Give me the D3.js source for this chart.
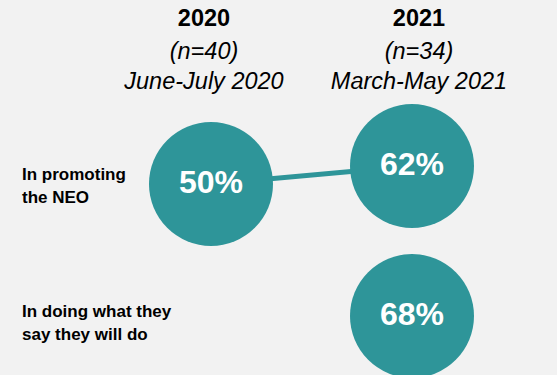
<!DOCTYPE html>
<html>
<head>
<meta charset="utf-8">
<script src="https://cdn.jsdelivr.net/npm/d3@7"></script>
<style>
  html, body { margin: 0; padding: 0; background: #f2f2f2; }
  svg { display: block; font-family: "Liberation Sans", Arial, sans-serif; }
</style>
</head>
<body>
<svg width="557" height="375"></svg>
<script>
// data
const years = ["2020", "2021"];
const sampleSizes = ["(n=40)", "(n=34)"];
const periods = ["June-July 2020", "March-May 2021"];
const categories = ["In promoting the NEO", "In doing what they say they will do"];
const labelLines = [["In promoting", "the NEO"], ["In doing what they", "say they will do"]];
const values2020 = [50, null];
const values2021 = [62, 68];

const svg = d3.select("svg");
const teal = "#2e9599";
const radius = 62;

// column / row scales
const x = d3.scalePoint().domain(years).range([211, 412]);
const row = d3.scalePoint().domain(categories).range([175, 334]);
// small vertical nudge by value within a row
const nudge = d3.scaleLinear().domain([50, 62]).range([9, -9]);

const points = [];
categories.forEach((c, i) => {
    [values2020[i], values2021[i]].forEach((v, j) => {
        if (v != null) points.push({cat: c, year: years[j], value: v});
    });
});
const cx = d => x(d.year);
const cy = d => row(d.cat) + nudge(d.value);

// headers
const headerOffset = [-7, 7];
const header = svg.append("g").attr("text-anchor", "middle").attr("fill", "#000");
years.forEach((y, i) => {
    const hx = x(y) + headerOffset[i];
    header.append("text").attr("x", hx).attr("y", 26)
        .attr("font-size", 23.5).attr("font-weight", "bold").text(y);
    header.append("text").attr("x", hx).attr("y", 59)
        .attr("font-size", 23.5).attr("font-style", "italic").text(sampleSizes[i]);
    header.append("text").attr("x", hx).attr("y", 89)
        .attr("font-size", 23.5).attr("font-style", "italic").text(periods[i]);
});

// row labels
const labelBase = [180, 317];
categories.forEach((c, i) => {
    const t = svg.append("text").attr("x", 22).attr("y", labelBase[i])
        .attr("font-size", 17).attr("font-weight", "bold").attr("fill", "#000");
    labelLines[i].forEach((line, k) => {
        t.append("tspan").attr("x", 22).attr("dy", k === 0 ? 0 : 23).text(line);
    });
});

// connectors between years
categories.forEach((c, i) => {
    const pts = points.filter(p => p.cat === c);
    if (pts.length > 1) {
        svg.append("path")
            .datum(pts)
            .attr("fill", "none")
            .attr("stroke", teal)
            .attr("stroke-width", 5)
            .attr("d", d3.line().x(cx).y(cy));
    }
});

// bubbles
const bubble = svg.selectAll("g.bubble").data(points).enter().append("g").attr("class", "bubble");
bubble.append("circle")
    .attr("cx", cx).attr("cy", cy).attr("r", radius)
    .attr("fill", teal);
bubble.append("text")
    .attr("x", cx).attr("y", d => cy(d) + 9)
    .attr("text-anchor", "middle")
    .attr("font-size", 32).attr("font-weight", "bold").attr("fill", "#fff")
    .text(d => d.value + "%");
</script>
</body>
</html>
